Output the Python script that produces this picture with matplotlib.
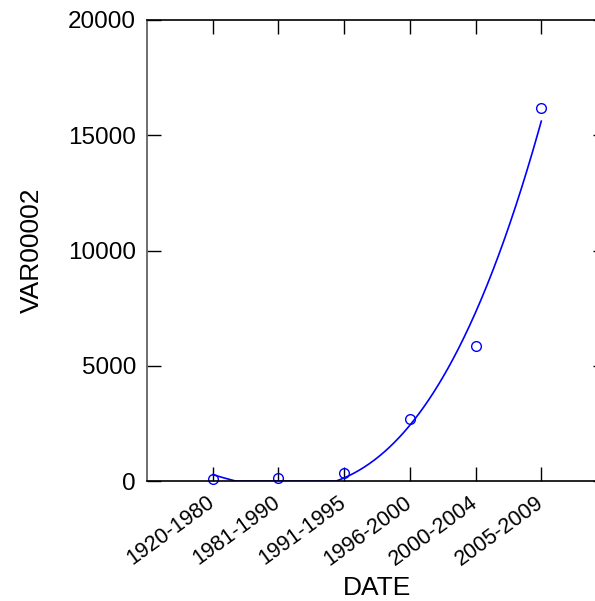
import numpy as np
import matplotlib
matplotlib.use("Agg")
import matplotlib.pyplot as plt
from matplotlib.transforms import ScaledTranslation

categories = ["1920-1980", "1981-1990", "1991-1995", "1996-2000", "2000-2004", "2005-2009"]
values = [80, 150, 330, 2700, 5860, 16200]
y_ticks = [0, 5000, 10000, 15000, 20000]

# readings of the fitted (cubic) line as drawn in the reference
fit_x = [1.0, 1.27, 2.9, 3.0, 4.0, 4.47, 5.0, 6.0]
fit_y = [330, 0, 0, 80, 2600, 4380, 7130, 15660]

plt.rcParams['font.family'] = ['Liberation Sans', 'DejaVu Sans']

fig = plt.figure(figsize=(5.95, 6.01), dpi=100)
ax = fig.add_axes([147/595, 1-481/601, (607-147)/595, (481-20)/601])

x = np.arange(1, len(categories)+1)
coef = np.polyfit(fit_x, fit_y, 3)
xs = np.linspace(1, len(categories), 400)
ys = np.clip(np.polyval(coef, xs), 0, None)
ax.plot(xs, ys, color='#0000ff', lw=1.2)
ax.plot(x, values, 'o', mfc='none', mec='#0000ff', ms=7, mew=1.0, clip_on=False)

ax.set_xlim(0, 7)
ax.set_ylim(0, 20000)
ax.set_xticks(x)
ax.set_xticklabels(categories, rotation=36, ha='right', va='center',
                   rotation_mode='anchor', fontsize=15.5)
offset = ScaledTranslation(8/100, 0, fig.dpi_scale_trans)
for lbl in ax.get_xticklabels():
    lbl.set_transform(lbl.get_transform() + offset)
ax.set_yticks(y_ticks)
ax.set_yticklabels([str(v) for v in y_ticks], fontsize=17.5)
ax.tick_params(axis='both', direction='in', length=10, width=1.0, color='black',
               top=True, right=True)
ax.tick_params(axis='x', pad=14)
ax.tick_params(axis='y', pad=8)
ax.set_xlabel("DATE", fontsize=19, labelpad=4)
ax.set_ylabel("VAR00002", fontsize=19, labelpad=17)
for s in ['top', 'bottom', 'right']:
    ax.spines[s].set_color('black')
ax.spines['left'].set_color('#555555')
for s in ax.spines.values():
    s.set_linewidth(1.2)

fig.savefig("out.png", dpi=100)
